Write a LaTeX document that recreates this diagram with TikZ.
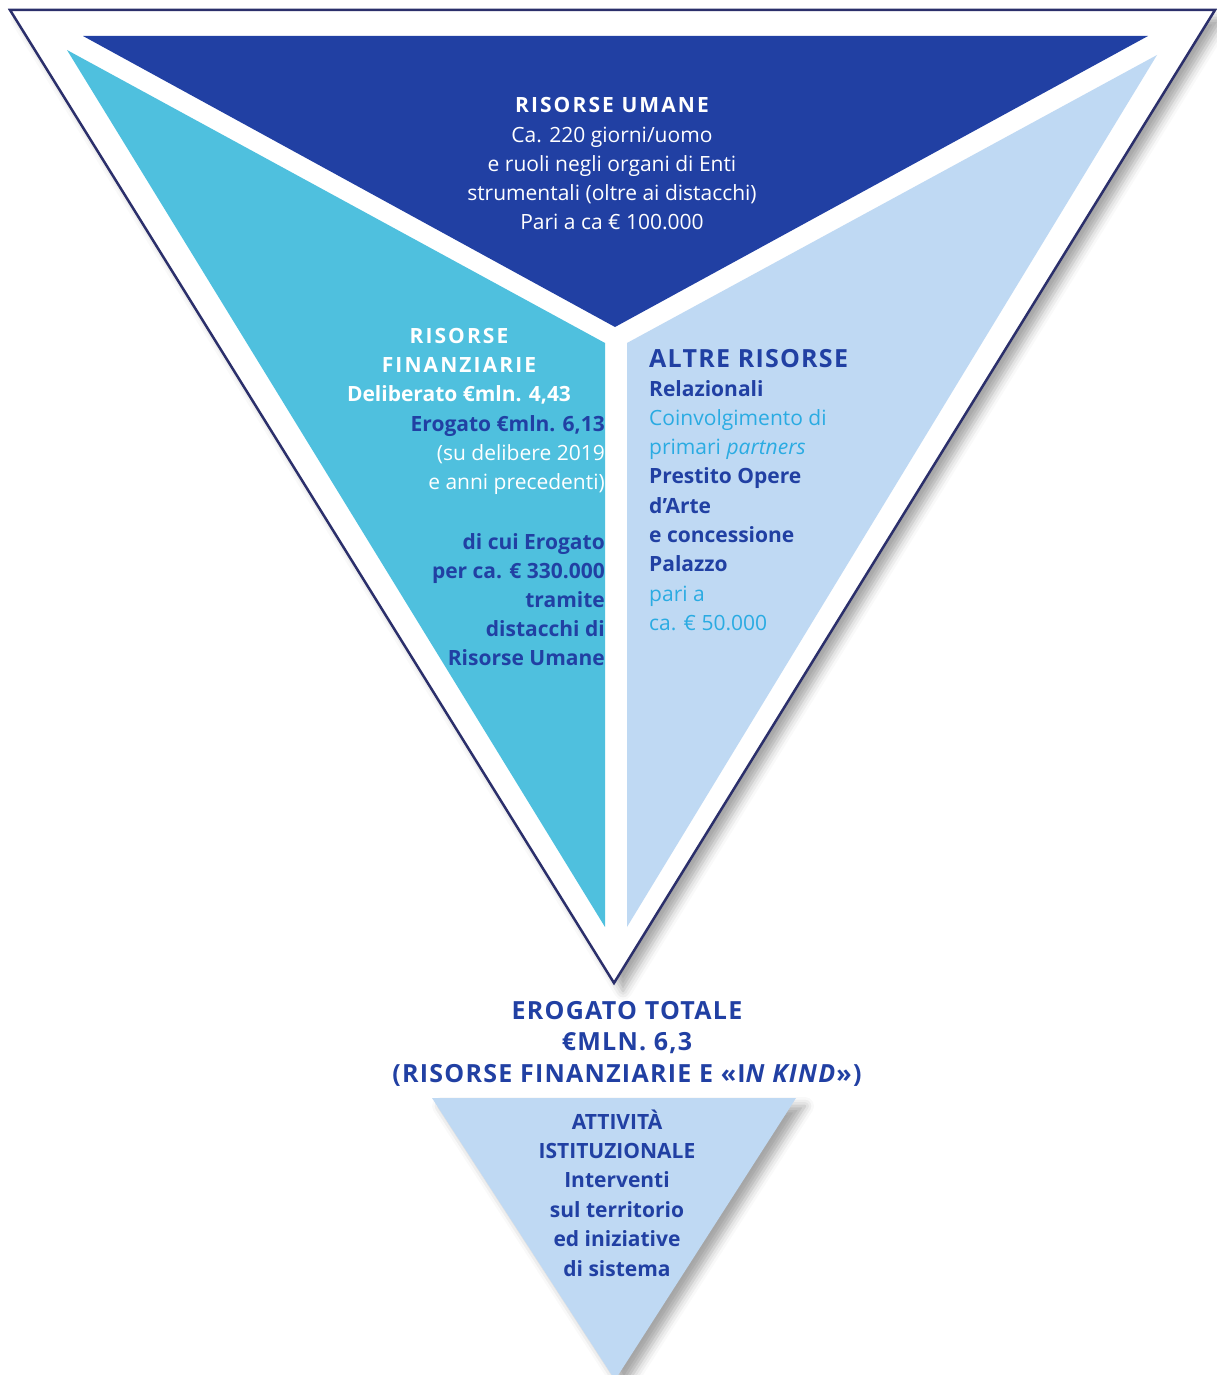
\documentclass[tikz,border=0pt]{standalone}
\usepackage{fontspec}
\setmainfont{Open Sans}
\usetikzlibrary{shadows.blur}
\definecolor{navy}{HTML}{2B2F6B}
\definecolor{dblue}{HTML}{2140A3}
\definecolor{cyanf}{HTML}{4FC0DE}
\definecolor{lblue}{HTML}{BFD9F3}
\definecolor{ltxt}{HTML}{2AABE2}
\newcommand{\spc}{\addfontfeatures{LetterSpace=10}}
\newcommand{\spcb}{\addfontfeatures{LetterSpace=5}}
\tikzset{
  txt/.style={inner sep=0pt, font=\fontsize{21}{29.2}\selectfont},
  big/.style={inner sep=0pt, font=\fontsize{25}{31.5}\selectfont\bfseries\spcb},
  shad/.style={blur shadow={shadow xshift=9pt, shadow yshift=-8pt, shadow blur radius=9pt, shadow opacity=35}}
}
\begin{document}
\begin{tikzpicture}[x=1pt,y=-1pt]
\useasboundingbox (0,0) rectangle (1217,1375);
% outer funnel
\path[fill=white, draw=navy, line width=2.5pt, line join=miter, shad] (10,10) -- (1215,10) -- (614,983) -- cycle;
% sectors
\fill[dblue] (83,36) -- (1148,36) -- (615,327) -- cycle;
\fill[cyanf] (67,50) -- (605,343) -- (605,927) -- cycle;
\fill[lblue] (1157,55) -- (627,343) -- (627,927) -- cycle;
% small triangle
\path[fill=lblue, shad] (432,1098) -- (796,1098) -- (615,1380) -- cycle;

% top text (anchor = baseline of last line)
\node[txt, text=white, align=center, anchor=base] (umane) at (612,229.8)
  {{\bfseries\spc RISORSE UMANE}\\Ca. 220 giorni/uomo\\e ruoli negli organi di Enti\\strumentali (oltre ai distacchi)\\Pari a ca € 100.000};

% left text
\node[txt, text=white, align=center, anchor=base, font=\fontsize{21}{29.2}\selectfont\bfseries] (finA) at (459,401.4)
  {{\spc RISORSE}\\{\spc FINANZIARIE}\\Deliberato €mln. 4,43};
\node[txt, align=right, anchor=base east] (finB) at (605,489.4)
  {\textcolor{dblue}{\textbf{Erogato €mln. 6,13}}\\\textcolor{white}{(su delibere 2019}\\\textcolor{white}{e anni precedenti)}};
\node[txt, text=dblue, align=right, anchor=base east, font=\fontsize{21}{29.2}\selectfont\bfseries] (finC) at (605,665.8)
  {di cui Erogato\\per ca. € 330.000\\tramite\\distacchi di\\Risorse Umane};

% right text
\node[big, text=dblue, anchor=base west] (altre) at (649,367) {ALTRE RISORSE};
\node[txt, align=left, anchor=base west, font=\fontsize{21}{29.3}\selectfont] (altreB) at (649,630.4)
  {\textcolor{dblue}{\textbf{Relazionali}}\\\textcolor{ltxt}{Coinvolgimento di}\\\textcolor{ltxt}{primari \textit{partners}}\\\textcolor{dblue}{\textbf{Prestito Opere}}\\\textcolor{dblue}{\textbf{d’Arte}}\\\textcolor{dblue}{\textbf{e concessione}}\\\textcolor{dblue}{\textbf{Palazzo}}\\\textcolor{ltxt}{pari a}\\\textcolor{ltxt}{ca. € 50.000}};

% bottom text
\node[big, text=dblue, align=center, anchor=base] (tot) at (627,1082)
  {EROGATO TOTALE\\€MLN. 6,3\\(RISORSE FINANZIARIE E «I\textit{N KIND}»)};

% small triangle text
\node[txt, text=dblue, align=center, anchor=base, font=\fontsize{21}{29.4}\selectfont\bfseries] (att) at (617,1276)
  {ATTIVITÀ\\ISTITUZIONALE\\Interventi\\sul territorio\\ed iniziative\\di sistema};
\end{tikzpicture}
\end{document}
